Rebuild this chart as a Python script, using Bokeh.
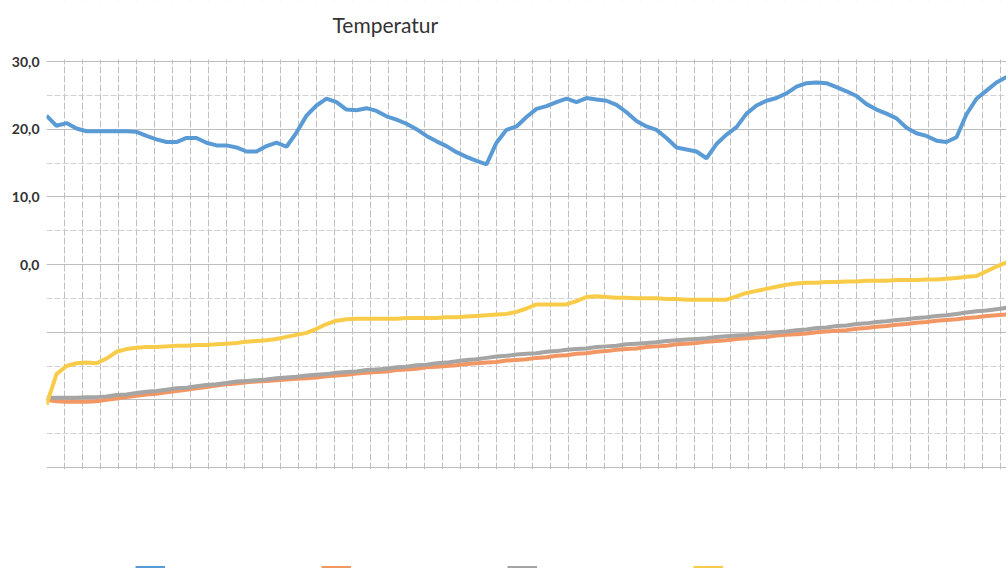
from bokeh.plotting import figure
from bokeh.models import Range1d, FixedTicker, Legend, LegendItem, BoxAnnotation, Label
from bokeh.embed import file_html
from bokeh.resources import INLINE

# ---- data ----
blue = [22.0, 20.5, 20.9, 20.1, 19.7, 19.7, 19.7, 19.7, 19.7, 19.6,
        19.0, 18.5, 18.1, 18.1, 18.7, 18.7, 18.0, 17.6, 17.6, 17.3,
        16.7, 16.7, 17.5, 18.0, 17.4, 19.5, 22.0, 23.5, 24.5, 24.0,
        22.9, 22.8, 23.1, 22.7, 21.9, 21.4, 20.8, 20.0, 19.0, 18.2,
        17.5, 16.6, 15.9, 15.3, 14.8, 18.0, 19.9, 20.4, 21.8, 23.0,
        23.4, 24.0, 24.5, 24.0, 24.6, 24.4, 24.2, 23.6, 22.5, 21.2,
        20.4, 19.9, 18.7, 17.3, 17.0, 16.7, 15.7, 17.8, 19.2, 20.3,
        22.3, 23.5, 24.2, 24.6, 25.3, 26.3, 26.8, 26.9, 26.8, 26.2,
        25.6, 24.9, 23.7, 22.9, 22.3, 21.6, 20.2, 19.4, 19.0, 18.3,
        18.1, 18.8, 22.2, 24.5, 25.7, 26.9, 27.7]

orange = [-20.0, -20.2, -20.3, -20.3, -20.3, -20.2, -20.0, -19.8, -19.6, -19.4,
          -19.2, -19.1, -18.9, -18.7, -18.5, -18.3, -18.1, -17.9, -17.7, -17.6,
          -17.4, -17.3, -17.2, -17.1, -17.0, -16.9, -16.8, -16.7, -16.5, -16.4,
          -16.3, -16.1, -16.0, -15.9, -15.8, -15.6, -15.5, -15.4, -15.2, -15.1,
          -15.0, -14.9, -14.7, -14.6, -14.5, -14.4, -14.2, -14.1, -14.0, -13.8,
          -13.7, -13.5, -13.4, -13.2, -13.1, -12.9, -12.8, -12.6, -12.5, -12.4,
          -12.2, -12.1, -12.0, -11.8, -11.7, -11.6, -11.4, -11.3, -11.2, -11.0,
          -10.9, -10.8, -10.7, -10.5, -10.4, -10.3, -10.2, -10.0, -9.9, -9.8,
          -9.7, -9.5, -9.4, -9.2, -9.1, -8.9, -8.8, -8.6, -8.5, -8.3,
          -8.2, -8.1, -7.9, -7.8, -7.6, -7.5, -7.4]

gray = [-19.7, -19.7, -19.7, -19.7, -19.6, -19.6, -19.5, -19.3, -19.2, -19.0,
        -18.8, -18.7, -18.5, -18.3, -18.2, -18.0, -17.8, -17.7, -17.5, -17.3,
        -17.2, -17.1, -17.0, -16.8, -16.7, -16.6, -16.4, -16.3, -16.2, -16.0,
        -15.9, -15.8, -15.6, -15.5, -15.4, -15.2, -15.1, -14.9, -14.8, -14.6,
        -14.5, -14.3, -14.1, -14.0, -13.8, -13.6, -13.5, -13.3, -13.2, -13.1,
        -12.9, -12.8, -12.6, -12.5, -12.4, -12.2, -12.1, -12.0, -11.8, -11.7,
        -11.6, -11.5, -11.3, -11.2, -11.1, -11.0, -10.9, -10.7, -10.6, -10.5,
        -10.4, -10.2, -10.1, -10.0, -9.9, -9.7, -9.6, -9.4, -9.3, -9.1,
        -9.0, -8.8, -8.7, -8.5, -8.4, -8.2, -8.1, -7.9, -7.8, -7.6,
        -7.5, -7.3, -7.1, -6.9, -6.8, -6.6, -6.4]

yellow = [-20.7, -16.2, -15.0, -14.6, -14.5, -14.6, -13.9, -12.9, -12.5, -12.3,
          -12.2, -12.2, -12.1, -12.0, -12.0, -11.9, -11.9, -11.8, -11.7, -11.6,
          -11.4, -11.3, -11.2, -11.0, -10.7, -10.4, -10.1, -9.5, -8.8, -8.3,
          -8.1, -8.0, -8.0, -8.0, -8.0, -8.0, -7.9, -7.9, -7.9, -7.9,
          -7.8, -7.8, -7.7, -7.6, -7.5, -7.4, -7.3, -7.0, -6.5, -5.9,
          -5.9, -5.9, -5.9, -5.4, -4.8, -4.7, -4.8, -4.9, -4.9, -5.0,
          -5.0, -5.0, -5.1, -5.1, -5.2, -5.2, -5.2, -5.2, -5.2, -4.7,
          -4.2, -3.9, -3.6, -3.3, -3.0, -2.8, -2.7, -2.7, -2.6, -2.6,
          -2.5, -2.5, -2.4, -2.4, -2.4, -2.3, -2.3, -2.3, -2.2, -2.2,
          -2.1, -2.0, -1.8, -1.7, -1.0, -0.3, 0.3]

x = list(range(len(blue)))

title_text = "Temperatur"
y_ticks = [-30, -20, -10, 0, 10, 20, 30]
y_tick_labels = {30: "30,0", 20: "20,0", 10: "10,0", 0: "0,0", -10: "", -20: "", -30: ""}

colors = ["#5b9bd5", "#f29763", "#a5a5a5", "#f8cc48"]

# The frame fills the whole height; the plotted band (30 .. -30) sits between
# screen rows TOP and TOP+AREA, leaving blank strips for the title and legend.
H, TOP, AREA = 568, 61, 406
per_px = 60.0 / AREA
y_high = 30 + TOP * per_px
y_low = -30 - (H - TOP - AREA) * per_px

p = figure(width=1006, height=H, output_backend="svg", toolbar_location=None,
           x_range=Range1d(0, 96.0), y_range=Range1d(y_low, y_high),
           min_border_left=46, min_border_right=0, min_border_top=0,
           min_border_bottom=0)
p.outline_line_color = None
p.background_fill_color = "white"
p.border_fill_color = "white"

p.xaxis.visible = False
p.yaxis.ticker = FixedTicker(ticks=y_ticks)
p.yaxis.major_label_overrides = y_tick_labels
p.yaxis.axis_line_color = None
p.yaxis.major_tick_line_color = None
p.yaxis.minor_tick_line_color = None
p.yaxis.major_tick_in = 0
p.yaxis.major_tick_out = 0
p.yaxis.major_label_standoff = 7
p.yaxis.major_label_text_font = "Lato"
p.yaxis.major_label_text_font_size = "14px"
p.yaxis.major_label_text_font_style = "bold"
p.yaxis.major_label_text_color = "#333333"

p.ygrid.ticker = FixedTicker(ticks=y_ticks, minor_ticks=[-25, -15, -5, 5, 15, 25])
p.ygrid.grid_line_color = "#bdbdbd"
p.ygrid.grid_line_width = 1
p.ygrid.minor_grid_line_color = "#d2d2d2"
p.ygrid.minor_grid_line_dash = "6 2"

p.xgrid.ticker = FixedTicker(ticks=[v * 1.8 for v in range(54)])
p.xgrid.grid_line_color = "#c0c0c0"
p.xgrid.grid_line_width = 1
p.xgrid.grid_line_dash = "7 2"

r_blue = p.line(x, blue, line_color=colors[0], line_width=4)
r_orange = p.line(x, orange, line_color=colors[1], line_width=4)
r_gray = p.line(x, gray, line_color=colors[2], line_width=4)
r_yellow = p.line(x, yellow, line_color=colors[3], line_width=4)

# blank strips above and below the plotted band (hide the grid there)
p.add_layout(BoxAnnotation(top=-30.3, fill_color="white", fill_alpha=1.0,
                           line_color=None))
p.add_layout(BoxAnnotation(bottom=30.3, fill_color="white", fill_alpha=1.0,
                           line_color=None))

p.add_layout(Label(x=28.6, y=30 + 37 * per_px, text=title_text,
                   text_font="Lato", text_font_size="21px", text_color="#333333",
                   text_align="left", text_baseline="middle"))

legend = Legend(items=[LegendItem(label=" ", renderers=[r]) for r in
                       [r_blue, r_orange, r_gray, r_yellow]],
                orientation="horizontal", location=(89, 0),
                glyph_width=30, glyph_height=2, label_standoff=0,
                label_width=156, label_height=2, spacing=0, padding=0, margin=0,
                border_line_color=None, background_fill_alpha=0,
                label_text_font_size="2px")
p.add_layout(legend, "center")

open("out.html", "w").write(file_html(p, INLINE))
